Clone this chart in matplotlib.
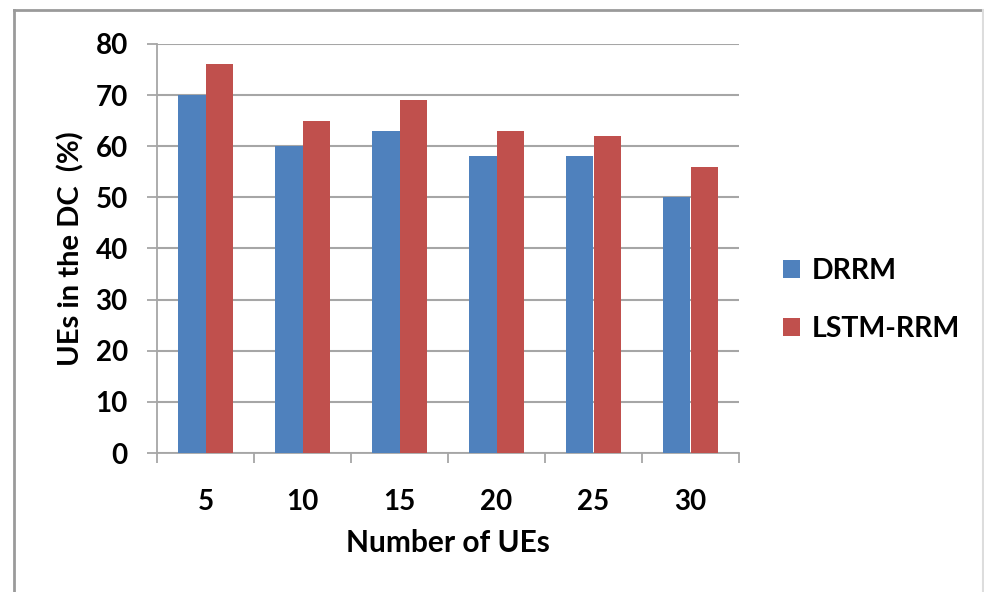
import matplotlib.pyplot as plt
import numpy as np
from matplotlib.lines import Line2D

# data
categories = ['5', '10', '15', '20', '25', '30']
drrm = [70, 60, 63, 58, 58, 50]
lstm_rrm = [76, 65, 69, 63, 62, 56]
series_names = ['DRRM', 'LSTM-RRM']

blue = '#4F81BD'
red = '#C0504D'
grid_col = '#A6A6A6'

plt.rcParams['font.family'] = ['Lato', 'DejaVu Sans']
plt.rcParams['font.weight'] = 'bold'

fig = plt.figure(figsize=(9.84, 5.92), dpi=100)
W, H = 984, 592
ax = fig.add_axes([157 / W, 1 - 453 / H, (739 - 157) / W, (453 - 44) / H])

x = np.arange(len(categories))
bw = 1 / 3.5  # excel gap width 150%
ax.bar(x - bw / 2, drrm, bw, color=blue, label=series_names[0], zorder=3)
ax.bar(x + bw / 2, lstm_rrm, bw, color=red, label=series_names[1], zorder=3)

ax.set_xlim(-0.5, len(categories) - 0.5)
ax.set_ylim(0, 80)
ax.set_yticks(np.arange(0, 81, 10))
ax.yaxis.grid(True, color=grid_col, linewidth=1.5, zorder=0)
ax.set_axisbelow(True)

ax.set_xticks(x)
ax.set_xticklabels(categories)
ax.set_xticks(np.arange(-0.5, len(categories), 1), minor=True)
ax.tick_params(axis='x', which='major', length=0, pad=26, labelsize=20)
ax.tick_params(axis='x', which='minor', length=7, width=1.3, color=grid_col, direction='out')
ax.tick_params(axis='y', length=7, width=1.3, color=grid_col, pad=14, labelsize=20)

for s in ['top', 'right']:
    ax.spines[s].set_visible(False)
for s in ['left', 'bottom']:
    ax.spines[s].set_color(grid_col)
    ax.spines[s].set_linewidth(1.3)

ax.set_xlabel('Number of UEs', fontsize=21.5, fontweight='bold', labelpad=10)
ax.set_ylabel('UEs in the DC  (%)', fontsize=21, fontweight='bold', labelpad=8)

# legend on the right, like excel
ax.legend(loc='center left', bbox_to_anchor=(1.032, 0.374), frameon=False,
          handlelength=0.6, handleheight=0.6, handletextpad=0.4,
          labelspacing=1.15, prop={'weight': 'bold', 'size': 20.5})

# outer chart border
fig.add_artist(Line2D([14 / W, 14 / W], [1 - 10 / H, 1 - 591 / H], color='#9A9A9A', lw=2))
fig.add_artist(Line2D([14 / W, 983 / W], [1 - 10 / H, 1 - 10 / H], color='#9A9A9A', lw=2))
fig.add_artist(Line2D([983 / W, 983 / W], [1 - 10 / H, 1 - 591 / H], color='#DDDDDD', lw=1.5))

fig.savefig('out.png', dpi=100)
